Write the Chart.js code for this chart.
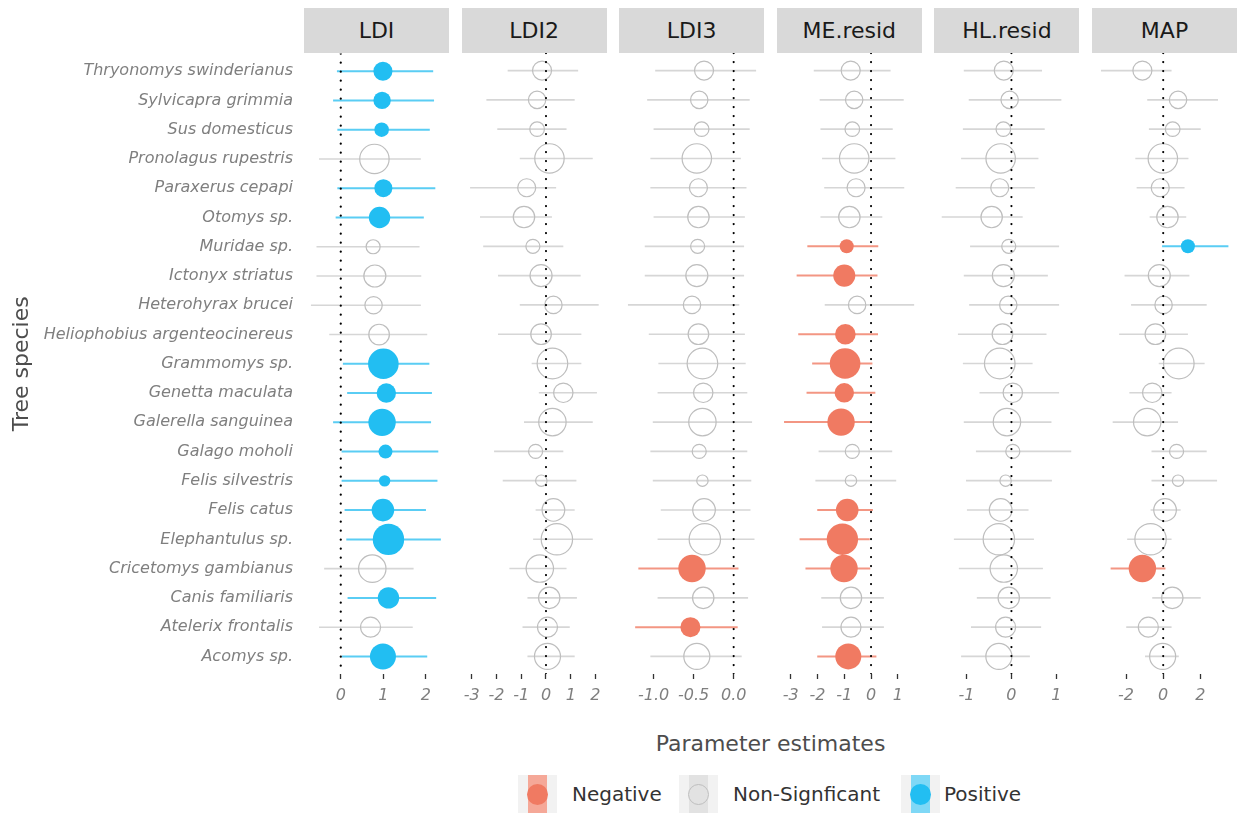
<!DOCTYPE html>
<html>
<head>
<meta charset="utf-8">
<script src="https://cdn.jsdelivr.net/npm/chart.js@4.4.1/dist/chart.umd.min.js"></script>
<style>
  body { margin: 0; background: #fff; font-family: "DejaVu Sans", sans-serif; }
  #wrap { position: relative; width: 1238px; height: 813px; overflow: hidden; }
  #wrap canvas { position: absolute; }
  .strip { position: absolute; top: 8px; height: 45px; background: #d9d9d9; color: #1a1a1a;
           font-size: 22px; line-height: 45px; text-align: center; }
  .xtitle { position: absolute; left: 304px; width: 933px; top: 731px; text-align: center;
            font-size: 22px; color: #4d4d4d; }
  .key { position: absolute; top: 775px; width: 39px; height: 39px; background: #f2f2f2; }
  .key .bar { position: absolute; left: 10px; width: 19px; top: 0; bottom: 0; }
  .key .dot { position: absolute; left: 9px; top: 9px; width: 21px; height: 21px; border-radius: 50%; box-sizing: border-box; }
  .ltext { position: absolute; top: 782px; font-size: 20px; color: #333; }
</style>
</head>
<body>
<div id="wrap"></div>
<script>
const species = ['Thryonomys swinderianus', 'Sylvicapra grimmia', 'Sus domesticus', 'Pronolagus rupestris',
  'Paraxerus cepapi', 'Otomys sp.', 'Muridae sp.', 'Ictonyx striatus', 'Heterohyrax brucei',
  'Heliophobius argenteocinereus', 'Grammomys sp.', 'Genetta maculata', 'Galerella sanguinea',
  'Galago moholi', 'Felis silvestris', 'Felis catus', 'Elephantulus sp.', 'Cricetomys gambianus',
  'Canis familiaris', 'Atelerix frontalis', 'Acomys sp.'];

// relative weight of each species (drives point size)
const pointWeight = [22.6, 18.9, 13.3, 54, 20.3, 28.6, 12.3, 30.3, 18.9, 26.5, 58.5,
  23.5, 46.9, 12.3, 8.1, 31.9, 61.6, 46.9, 28.6, 25, 42.3];

const categories = ['neg', 'ns', 'pos'];
const categoryNames = ['Negative', 'Non-Signficant', 'Positive'];

// LDI
const ldiEst  = [0.99, 0.97, 0.96, 0.79, 1.00, 0.91, 0.76, 0.80, 0.77, 0.90, 1.00, 1.07, 0.97, 1.05, 1.03, 0.99, 1.12, 0.74, 1.12, 0.70, 0.99];
const ldiLow  = [-0.09, -0.18, -0.08, -0.51, -0.08, -0.12, -0.57, -0.57, -0.70, -0.27, 0.05, 0.15, -0.18, 0.02, 0.02, 0.09, 0.13, -0.39, 0.16, -0.51, 0.02];
const ldiHigh = [2.17, 2.19, 2.09, 1.88, 2.22, 1.95, 1.85, 1.89, 1.88, 2.03, 2.08, 2.14, 2.12, 2.29, 2.27, 2.00, 2.35, 1.71, 2.24, 1.69, 2.03];
const ldiSig  = ['pos', 'pos', 'pos', 'ns', 'pos', 'pos', 'ns', 'ns', 'ns', 'ns', 'pos', 'pos', 'pos', 'pos', 'pos', 'pos', 'pos', 'ns', 'pos', 'ns', 'pos'];

// LDI2
const ldi2Est  = [-0.16, -0.36, -0.36, 0.14, -0.78, -0.89, -0.53, -0.20, 0.30, -0.20, 0.26, 0.70, 0.26, -0.42, -0.19, 0.30, 0.44, -0.25, 0.13, 0.06, 0.06];
const ldi2Low  = [-1.55, -2.41, -1.97, -1.06, -3.07, -2.67, -2.54, -1.94, -1.06, -1.94, -0.58, -0.29, -0.89, -2.10, -1.75, -0.42, -0.52, -1.48, -0.75, -0.95, -0.75];
const ldi2High = [1.30, 1.16, 0.83, 1.89, 0.41, 0.24, 0.70, 1.40, 2.13, 1.43, 1.43, 2.06, 1.89, 0.70, 1.23, 1.16, 1.89, 0.83, 1.25, 0.96, 1.16];
const ldi2Sig  = Array(21).fill('ns');

// LDI3
const ldi3Est  = [-0.37, -0.43, -0.40, -0.46, -0.44, -0.44, -0.45, -0.46, -0.52, -0.44, -0.39, -0.38, -0.39, -0.43, -0.39, -0.37, -0.36, -0.52, -0.38, -0.54, -0.46];
const ldi3Low  = [-0.98, -1.08, -1.00, -1.04, -1.04, -1.00, -1.11, -1.11, -1.32, -1.06, -0.94, -0.95, -1.01, -1.04, -1.01, -0.91, -0.95, -1.19, -0.95, -1.23, -1.04];
const ldi3High = [0.28, 0.20, 0.20, 0.09, 0.16, 0.14, 0.13, 0.13, 0.07, 0.14, 0.15, 0.17, 0.23, 0.17, 0.22, 0.21, 0.26, 0.06, 0.18, 0.05, 0.10];
const ldi3Sig  = ['ns', 'ns', 'ns', 'ns', 'ns', 'ns', 'ns', 'ns', 'ns', 'ns', 'ns', 'ns', 'ns', 'ns', 'ns', 'ns', 'ns', 'neg', 'ns', 'neg', 'ns'];

// ME.resid
const meEst  = [-0.76, -0.63, -0.70, -0.63, -0.56, -0.81, -0.91, -1.00, -0.52, -0.96, -0.97, -1.00, -1.12, -0.70, -0.75, -0.89, -1.07, -1.01, -0.75, -0.75, -0.85];
const meLow  = [-2.14, -1.92, -1.89, -1.83, -1.75, -1.89, -2.38, -2.78, -1.73, -2.72, -2.20, -2.41, -3.25, -1.96, -2.08, -2.01, -2.67, -2.45, -1.86, -1.83, -2.01];
const meHigh = [0.73, 1.22, 0.81, 0.91, 1.24, 0.42, 0.27, 0.24, 1.61, 0.26, 0.05, 0.16, -0.03, 0.79, 0.94, 0.07, -0.05, -0.03, 0.48, 0.48, 0.20];
const meSig  = ['ns', 'ns', 'ns', 'ns', 'ns', 'ns', 'neg', 'neg', 'ns', 'neg', 'neg', 'neg', 'neg', 'ns', 'ns', 'neg', 'neg', 'neg', 'ns', 'ns', 'neg'];

// HL.resid
const hlEst  = [-0.17, -0.04, -0.18, -0.24, -0.26, -0.44, -0.06, -0.18, -0.07, -0.20, -0.26, 0.03, -0.10, 0.03, -0.13, -0.24, -0.28, -0.17, -0.06, -0.13, -0.28];
const hlLow  = [-1.06, -0.95, -1.08, -1.12, -1.24, -1.55, -0.92, -1.06, -0.94, -1.19, -1.08, -0.71, -1.06, -0.79, -1.01, -0.99, -1.28, -1.17, -0.77, -0.90, -1.12];
const hlHigh = [0.68, 1.11, 0.74, 0.60, 0.52, 0.25, 1.06, 0.81, 1.06, 0.78, 0.47, 1.06, 0.89, 1.33, 0.90, 0.38, 0.50, 0.70, 0.87, 0.66, 0.41];
const hlSig  = Array(21).fill('ns');

// MAP
const mapEst  = [-1.12, 0.80, 0.51, -0.02, -0.16, 0.23, 1.33, -0.21, 0.02, -0.42, 0.84, -0.59, -0.86, 0.72, 0.80, 0.10, -0.68, -1.12, 0.49, -0.80, -0.03];
const mapLow  = [-3.35, -0.86, -0.77, -1.50, -1.43, -0.73, -0.06, -2.08, -1.73, -2.37, -0.24, -1.82, -2.72, -0.63, -0.63, -0.68, -1.94, -2.83, -0.59, -1.99, -0.98];
const mapHigh = [0.45, 2.95, 2.02, 1.36, 1.15, 1.24, 3.51, 1.41, 2.34, 1.33, 2.23, 0.45, 0.80, 2.34, 2.90, 0.94, 0.45, 0.12, 2.02, 0.45, 0.84];
const mapSig  = ['ns', 'ns', 'ns', 'ns', 'ns', 'ns', 'pos', 'ns', 'ns', 'ns', 'ns', 'ns', 'ns', 'ns', 'ns', 'ns', 'ns', 'neg', 'ns', 'ns', 'ns'];

// facet names, axis limits and ticks
const facetNames = ['LDI', 'LDI2', 'LDI3', 'ME.resid', 'HL.resid', 'MAP'];
const xMins = [-0.863, -3.32, -1.408, -3.48, -1.68, -3.73];
const xMaxs = [2.52, 2.39, 0.355, 1.87, 1.46, 3.87];
const xTicks = [[0, 1, 2], [-3, -2, -1, 0, 1, 2], [-1, -0.5, 0], [-3, -2, -1, 0, 1], [-1, 0, 1], [-2, 0, 2]];
const xTickLabels = [['0', '1', '2'], ['-3', '-2', '-1', '0', '1', '2'], ['-1.0', '-0.5', '0.0'],
  ['-3', '-2', '-1', '0', '1'], ['-1', '0', '1'], ['-2', '0', '2']];

const panels = [
  [ldiEst, ldiLow, ldiHigh, ldiSig],
  [ldi2Est, ldi2Low, ldi2High, ldi2Sig],
  [ldi3Est, ldi3Low, ldi3High, ldi3Sig],
  [meEst, meLow, meHigh, meSig],
  [hlEst, hlLow, hlHigh, hlSig],
  [mapEst, mapLow, mapHigh, mapSig]
];

const colors = {
  neg: { fill: '#F07A62', stroke: '#F07A62', line: '#F39683', key: '#F5A898' },
  ns:  { fill: 'rgba(0,0,0,0)', stroke: '#BEBEBE', line: '#D6D6D6', key: '#E2E2E2' },
  pos: { fill: '#22BEF2', stroke: '#22BEF2', line: '#5ACDF4', key: '#7FD8F6' }
};

Chart.defaults.font.family = '"DejaVu Sans", sans-serif';

const panelLeft0 = 304, panelStep = 157.6, panelWidth = 145;
const canvasTop = 33, canvasHeight = 686, padTop = 20, xAxisHeight = 45, sidePad = 15, yAxisWidth = 304;

function radiusOf(w) {
    return 2 * Math.sqrt(w);
}

function buildDatasets(est, low, high, sig) {
    const datasets = [];
    // dotted reference line at zero
    datasets.push({
        data: [{ x: 0, y: 0.4 }, { x: 0, y: 21.6 }],
        showLine: true,
        borderColor: '#000',
        borderWidth: 2.2,
        borderDash: [0.1, 8.9],
        borderCapStyle: 'round',
        pointRadius: 0,
        order: 0
    });
    categories.forEach(cat => {
        const rows = [];
        sig.forEach((s, i) => { if (s === cat) rows.push(i); });
        if (!rows.length) return;
        const bars = [];
        rows.forEach(i => {
            bars.push({ x: low[i], y: i + 1 }, { x: high[i], y: i + 1 }, { x: null, y: null });
        });
        datasets.push({
            data: bars,
            showLine: true,
            spanGaps: false,
            borderColor: colors[cat].line,
            borderWidth: cat === 'ns' ? 1.6 : 2,
            pointRadius: 0,
            order: 2
        });
        datasets.push({
            data: rows.map(i => ({ x: est[i], y: i + 1 })),
            showLine: false,
            pointRadius: rows.map(i => radiusOf(pointWeight[i])),
            pointBackgroundColor: colors[cat].fill,
            pointBorderColor: colors[cat].stroke,
            pointBorderWidth: cat === 'ns' ? 1.2 : 0,
            order: 1
        });
    });
    return datasets;
}

function buildPanel(idx) {
    const [est, low, high, sig] = panels[idx];
    const first = idx === 0;
    const left = panelLeft0 + idx * panelStep;

    const canvas = document.createElement('canvas');
    const cLeft = first ? 0 : left - sidePad;
    const cWidth = first ? yAxisWidth + panelWidth + sidePad : panelWidth + 2 * sidePad;
    canvas.width = cWidth;
    canvas.height = canvasHeight;
    canvas.style.left = cLeft + 'px';
    canvas.style.top = canvasTop + 'px';
    canvas.style.width = cWidth + 'px';
    canvas.style.height = canvasHeight + 'px';
    document.getElementById('wrap').appendChild(canvas);

    const strip = document.createElement('div');
    strip.className = 'strip';
    strip.style.left = left + 'px';
    strip.style.width = panelWidth + 'px';
    strip.textContent = facetNames[idx];
    document.getElementById('wrap').appendChild(strip);

    new Chart(canvas.getContext('2d'), {
        type: 'scatter',
        data: { datasets: buildDatasets(est, low, high, sig) },
        options: {
            responsive: false,
            animation: false,
            events: [],
            layout: { padding: { top: padTop, bottom: 0, left: first ? 0 : sidePad, right: sidePad } },
            scales: {
                x: {
                    type: 'linear',
                    min: xMins[idx],
                    max: xMaxs[idx],
                    afterBuildTicks: scale => { scale.ticks = xTicks[idx].map(v => ({ value: v })); },
                    afterFit: scale => { scale.height = xAxisHeight; },
                    ticks: {
                        autoSkip: false,
                        maxRotation: 0,
                        padding: 7,
                        color: '#7f7f7f',
                        font: { size: 16, style: 'italic' },
                        callback: (value, i) => xTickLabels[idx][i]
                    },
                    grid: { drawOnChartArea: false, drawTicks: true, tickLength: 5, tickColor: '#333', tickWidth: 1.3 },
                    border: { display: false }
                },
                y: {
                    type: 'linear',
                    display: first,
                    min: 0.4,
                    max: 21.6,
                    reverse: true,
                    afterBuildTicks: scale => { scale.ticks = species.map((s, i) => ({ value: i + 1 })); },
                    afterFit: scale => { if (first) scale.width = yAxisWidth; },
                    ticks: {
                        autoSkip: false,
                        padding: 11,
                        color: '#7f7f7f',
                        font: { size: 16, style: 'italic' },
                        callback: (value, i) => species[i]
                    },
                    grid: { display: false, drawTicks: false },
                    border: { display: false },
                    title: {
                        display: true,
                        text: 'Tree species',
                        color: '#4d4d4d',
                        font: { size: 22 },
                        padding: { top: 9, bottom: 0 }
                    }
                }
            },
            plugins: {
                legend: { display: false },
                tooltip: { enabled: false }
            }
        }
    });
}

function buildLegend() {
    const wrap = document.getElementById('wrap');
    const keyLefts = [518, 679, 901];
    const textLefts = [572, 733, 944];
    categories.forEach((cat, i) => {
        const key = document.createElement('div');
        key.className = 'key';
        key.style.left = keyLefts[i] + 'px';
        const bar = document.createElement('div');
        bar.className = 'bar';
        bar.style.background = colors[cat].key;
        const dot = document.createElement('div');
        dot.className = 'dot';
        dot.style.background = colors[cat].fill;
        if (cat === 'ns') dot.style.border = '1.2px solid ' + colors[cat].stroke;
        key.appendChild(bar);
        key.appendChild(dot);
        wrap.appendChild(key);

        const text = document.createElement('div');
        text.className = 'ltext';
        text.style.left = textLefts[i] + 'px';
        text.textContent = categoryNames[i];
        wrap.appendChild(text);
    });

    const xt = document.createElement('div');
    xt.className = 'xtitle';
    xt.textContent = 'Parameter estimates';
    wrap.appendChild(xt);
}

facetNames.forEach((f, i) => buildPanel(i));
buildLegend();
</script>
</body>
</html>
